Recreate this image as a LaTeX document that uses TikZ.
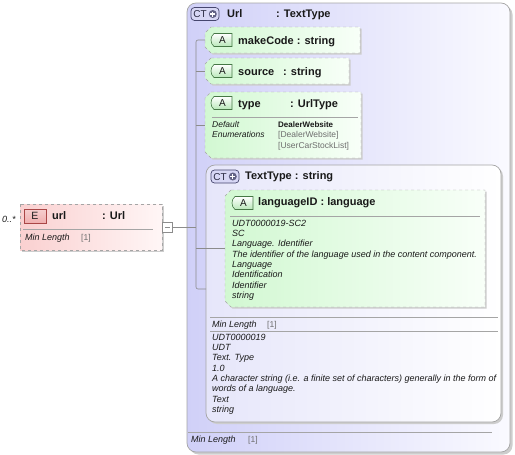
\documentclass[tikz,border=0pt]{standalone}
\usepackage{fontspec}
\setmainfont{Liberation Sans}
\definecolor{linegray}{RGB}{140,140,140}
\definecolor{boxgray}{RGB}{165,165,165}
\definecolor{shadowc}{RGB}{205,205,205}
\definecolor{ctleft}{RGB}{208,208,248}
\definecolor{ctright}{RGB}{250,250,255}
\definecolor{ttleft}{RGB}{230,230,250}
\definecolor{grleft}{RGB}{210,248,210}
\definecolor{grright}{RGB}{248,255,248}
\definecolor{pkleft}{RGB}{250,208,208}
\definecolor{pkright}{RGB}{255,246,246}
\definecolor{txt}{RGB}{25,25,25}
\definecolor{dimtxt}{RGB}{110,110,110}
\definecolor{abord}{RGB}{70,120,70}
\definecolor{afill}{RGB}{185,232,185}
\definecolor{ebord}{RGB}{170,70,70}
\definecolor{efill}{RGB}{240,175,175}
\definecolor{ctbord}{RGB}{70,70,110}
\definecolor{ctfill}{RGB}{215,215,245}
\newcommand\attrbox[5]{%
  \fill[shadowc] (#2+7.5,#3+1.5) -- (#4+1.5,#3+1.5) -- (#4+1.5,#5+1.5) -- (#2+7.5,#5+1.5) -- (#2+1.5,#5-4.5) -- (#2+1.5,#3+7.5) -- cycle;
  \draw[boxgray, dashed, left color=grleft, right color=grright] (#2+6,#3) -- (#4,#3) -- (#4,#5) -- (#2+6,#5) -- (#2,#5-6) -- (#2,#3+6) -- cycle;
  \node[anchor=north west, inner sep=0pt, outer sep=0pt, minimum width={(#4-#2)*1pt}, minimum height={(#5-#3)*1pt}] (#1) at (#2,#3) {};
}
\newcommand\abadge[3]{% x0 y0 name
  \draw[abord, top color=white, bottom color=afill, line width=0.6pt] (#1+5,#2) -- (#1+23,#2) -- (#1+23,#2+13) -- (#1+5,#2+13) .. controls (#1+1,#2+10) and (#1+1,#2+3) .. (#1+5,#2) -- cycle;
  \node[font=\fontsize{10}{12}\selectfont, text=txt, inner sep=0pt] (#3) at (#1+13.5,#2+6.5) {A};
}
\newcommand\ctbadge[3]{% x0 y0 name
  \draw[ctbord, fill=ctfill, rounded corners=3.5pt, line width=0.7pt] (#1,#2) rectangle (#1+28,#2+13);
  \node[font=\fontsize{10}{12}\selectfont, text=ctbord!60!black, inner sep=0pt, anchor=west] (#3) at (#1+2.2,#2+6.7) {CT};
  \fill[ctbord!85] (#1+21.8,#2+6.5) circle (4pt);
  \draw[white, line width=1.3pt] (#1+19.3,#2+6.5) -- (#1+24.3,#2+6.5) (#1+21.8,#2+4) -- (#1+21.8,#2+9);
}
\begin{document}
\begin{tikzpicture}[x=1pt,y=-1pt,
  conn/.style={draw=linegray, line width=0.6pt},
  ttl/.style={font=\fontsize{11}{13}\selectfont\bfseries, anchor=base west, inner sep=0pt, text=txt},
  det/.style={font=\fontsize{9}{10.3}\selectfont\itshape, anchor=north west, inner sep=0pt, align=left, text=txt},
  lbl/.style={font=\fontsize{9}{10.3}\selectfont\itshape, anchor=base west, inner sep=0pt, text=txt},
  dim/.style={font=\fontsize{8.5}{10}\selectfont, anchor=base west, inner sep=0pt, text=dimtxt},
  sep/.style={draw=boxgray, line width=0.7pt}]
\useasboundingbox (0,0) rectangle (515,455);
% outer complex type box
\fill[shadowc, rounded corners=9pt] (189.5,5.5) rectangle (512.5,454.5);
\draw[boxgray, line width=0.7pt, rounded corners=9pt, left color=ctleft, right color=ctright] (187,3) rectangle (510,452);
\node[anchor=north west, inner sep=0pt, minimum width=323pt, minimum height=449pt] (ct) at (187,3) {};
\ctbadge{191}{7.5}{ctb}
\node[ttl] (ctname) at (227,17.5) {Url};
\node[ttl] (cttype) at (276,17.5) {: TextType};
% inner TextType box
\fill[shadowc, rounded corners=9pt] (208,167) rectangle (503,424);
\draw[boxgray, line width=0.7pt, rounded corners=9pt, left color=ttleft, right color=white] (206,165) rectangle (501,422);
\node[anchor=north west, inner sep=0pt, minimum width=295pt, minimum height=257pt] (tt) at (206,165) {};
\ctbadge{211}{170}{ttb}
\node[ttl] (ttname) at (245,179.5) {TextType : string};
% attributes
\attrbox{mc}{205}{27}{360}{53}
\abadge{209}{33.5}{mcb}
\node[ttl] (mct) at (238,44) {makeCode : string};
\attrbox{src}{205}{58}{349}{84}
\abadge{209}{64.5}{srcb}
\node[ttl] (srct) at (238,75) {source};
\node[ttl] (srcty) at (283,75) {: string};
\attrbox{ty}{205}{92}{361}{158}
\abadge{209}{96.5}{tyb}
\node[ttl] (tyt) at (238,107) {type};
\node[ttl] (tyty) at (290,107) {: UrlType};
\draw[sep] (212,117) -- (358,117);
\node[lbl, font=\fontsize{8.5}{10}\selectfont\itshape] (tyd) at (212,127) {Default};
\node[lbl, font=\fontsize{8.5}{10}\selectfont\itshape] (tye) at (212,137.5) {Enumerations};
\node[dim, font=\fontsize{8}{10}\selectfont\bfseries, text=txt] (tyv) at (278,127) {DealerWebsite};
\node[dim] (tyv1) at (278,137.5) {[DealerWebsite]};
\node[dim] (tyv2) at (278,148) {[UserCarStockList]};
\attrbox{lid}{225}{190}{485}{307}
\abadge{230}{196.5}{lidb}
\node[ttl] (lidt) at (258,205) {languageID : language};
\draw[sep] (230,216) -- (480,216);
\node[det] (lidd) at (232,219.8) {UDT0000019-SC2\\SC\\Language. Identifier\\The identifier of the language used in the content component.\\Language\\Identification\\Identifier\\string};
% TextType facets and documentation
\draw[sep] (210,317) -- (498,317);
\node[lbl] (ttml) at (212,327.5) {Min Length};
\node[dim, font=\fontsize{8.5}{10}\selectfont] (ttmv) at (267,327.5) {[1]};
\draw[sep] (210,331) -- (498,331);
\node[det] (ttd) at (212,333.8) {UDT0000019\\UDT\\Text. Type\\1.0\\A character string (i.e. a finite set of characters) generally in the form of\\words of a language.\\Text\\string};
% outer facets
\draw[sep] (188,432) -- (492,432);
\node[lbl] (ctml) at (191,442.5) {Min Length};
\node[dim] (ctmv) at (248,442.5) {[1]};
% element
\fill[shadowc] (21.5,205.5) rectangle (163.5,251.5);
\draw[boxgray, dashed, line width=0.7pt, left color=pkleft, right color=pkright] (20,204) rectangle (162,250);
\node[anchor=north west, inner sep=0pt, minimum width=142pt, minimum height=46pt] (el) at (20,204) {};
\draw[ebord, line width=0.6pt, top color=white!40!efill, bottom color=efill] (24,209) rectangle (46,223);
\node[font=\fontsize{10.5}{12}\selectfont, text=txt, inner sep=0pt] (elb) at (35,216) {E};
\node[ttl] (elt) at (52,219) {url};
\node[ttl] (elty) at (102,219) {: Url};
\draw[sep] (23,229) -- (153,229);
\node[lbl] (elml) at (25,240.5) {Min Length};
\node[dim] (elmv) at (81,240.5) {[1]};
\node[lbl] (card) at (2,222) {0..*};
% connectors
\node[draw=linegray, fill=white, line width=0.6pt, minimum size=10pt, inner sep=0pt, anchor=west] (sq) at (162,227) {};
\draw[linegray, line width=0.6pt] ([xshift=-2.5pt]sq.center) -- ([xshift=2.5pt]sq.center);
\coordinate (trTop) at (196,40);
\coordinate (trBot) at (196,289);
\draw[conn] (sq.east) -- (trTop |- sq.east);
\draw[conn, rounded corners=2pt] (mc.west) -- (trTop) -- (trBot) -- (tt.west |- trBot);
\draw[conn] (trTop |- src.west) -- (src.west);
\draw[conn] (trTop |- ty.west) -- (ty.west);
\draw[conn] (trTop |- lid.west) -- (lid.west);
\end{tikzpicture}
\end{document}
